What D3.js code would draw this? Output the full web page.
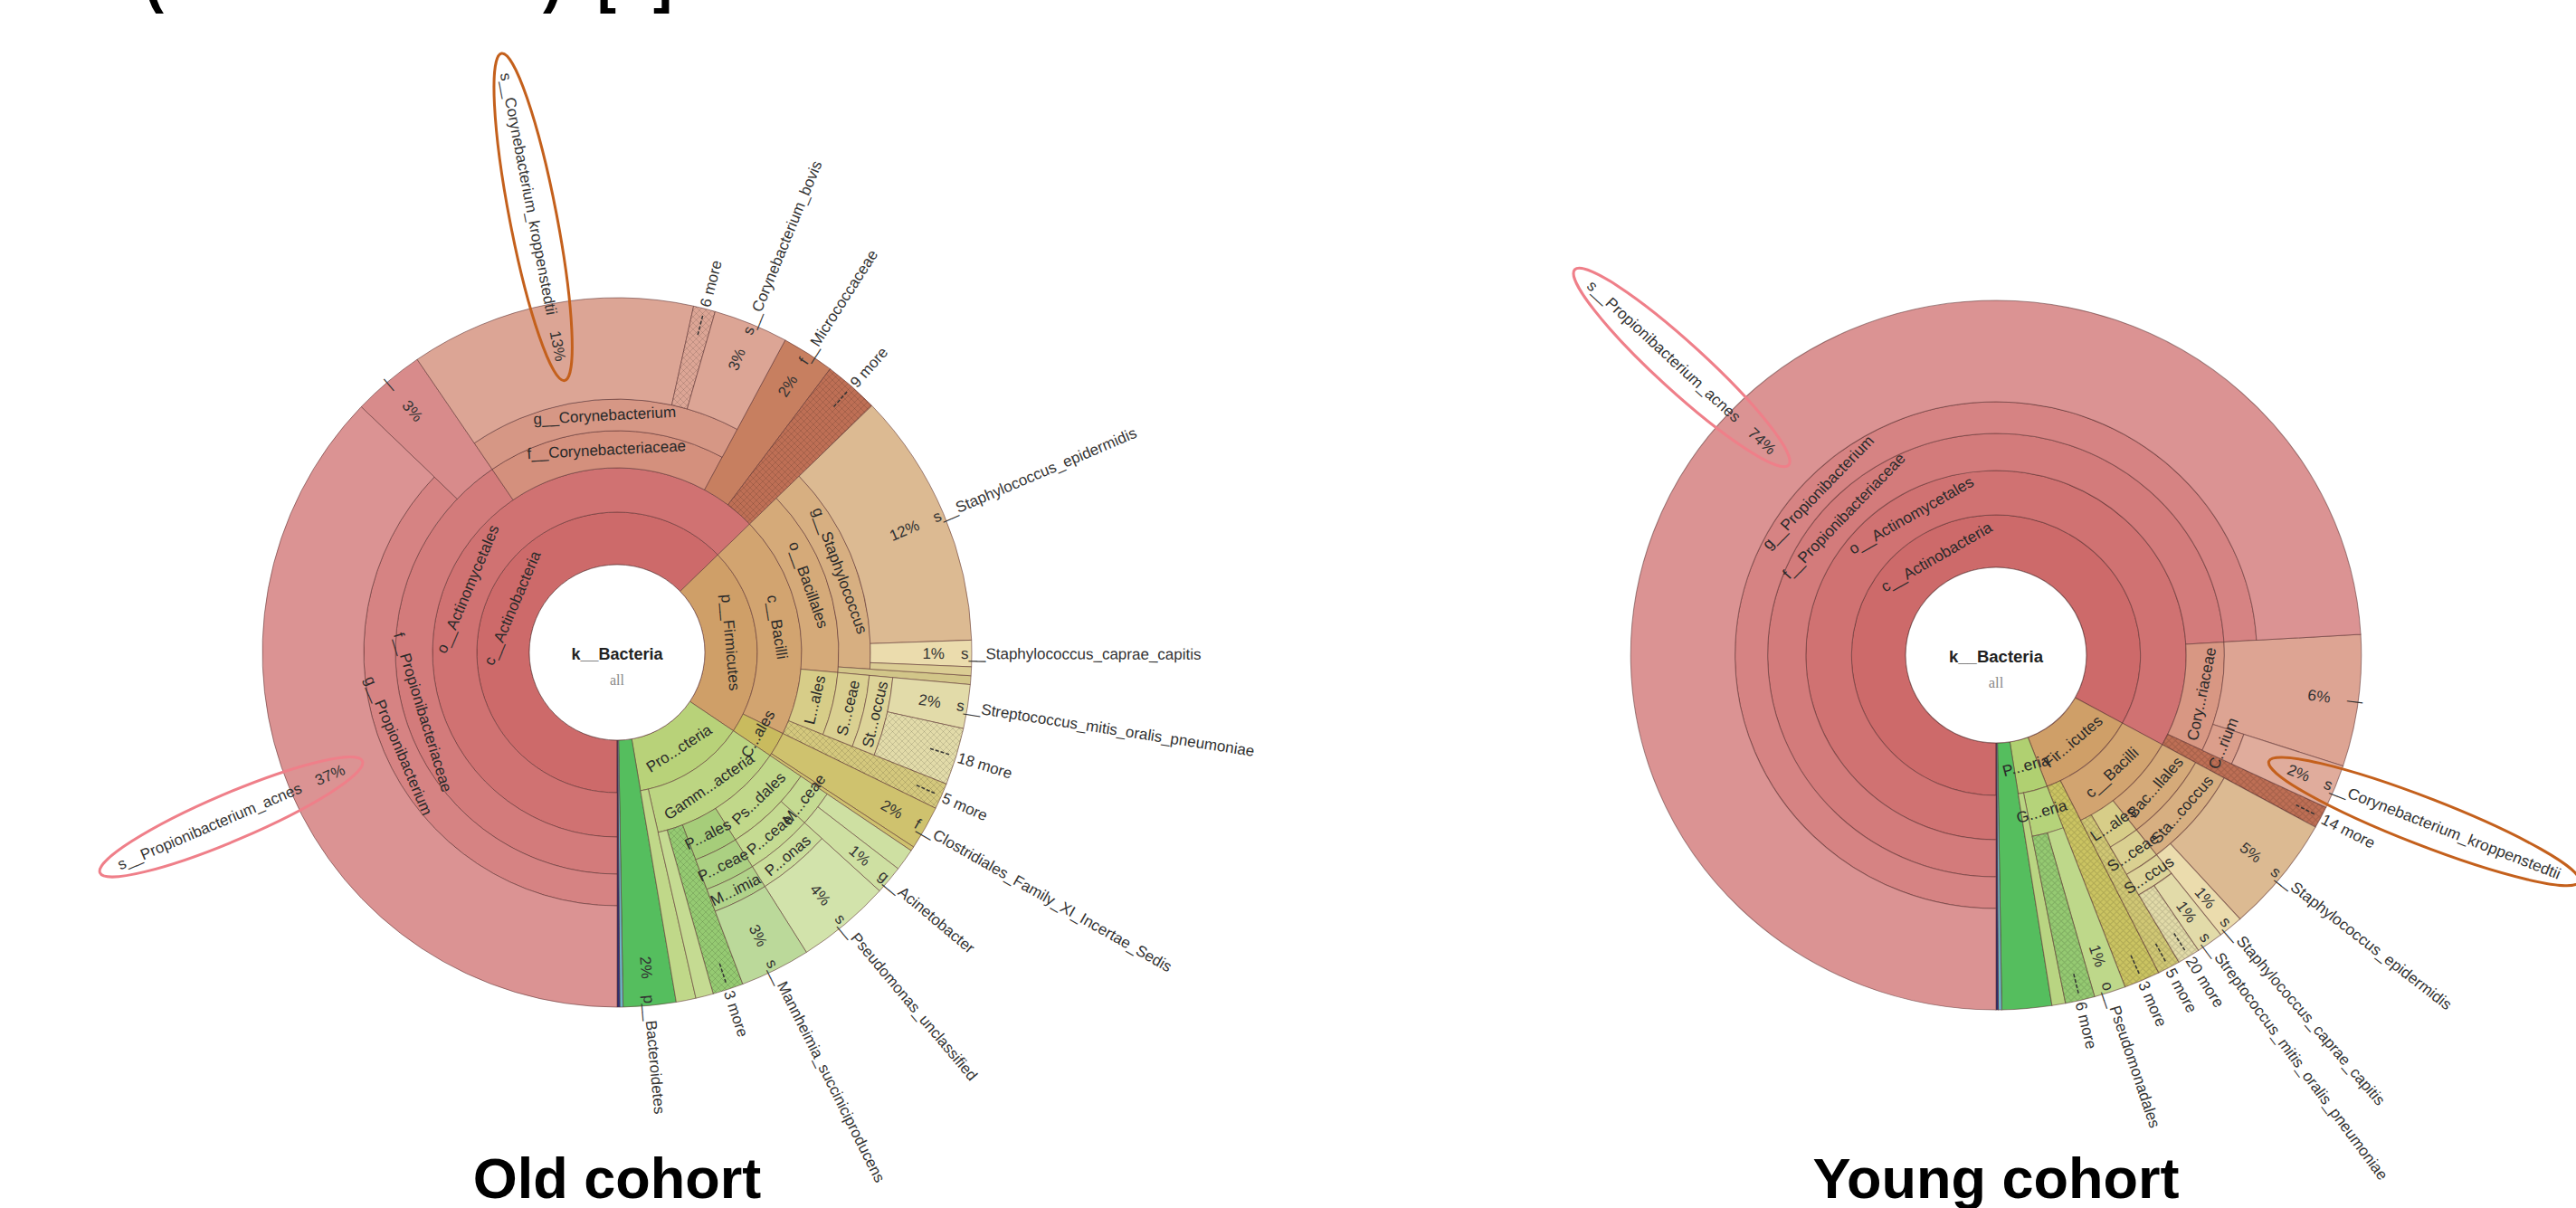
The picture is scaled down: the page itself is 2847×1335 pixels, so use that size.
<!DOCTYPE html>
<html>
<head>
<meta charset="utf-8">
<script src="https://cdn.jsdelivr.net/npm/d3@7"></script>
<style>
  body { margin: 0; background: #fff; }
  svg { display: block; font-family: "Liberation Sans", Arial, sans-serif; }
</style>
</head>
<body>
<svg id="chart" width="2847" height="1335"></svg>
<script>
// Krona wedges, paths already collapsed the way Krona shows them.
// values are % of reads. names starting with "_" are wedges with no label.
const oldPaths = [
  "c__Actinobacteria/o__Actinomycetales/f__Propionibacteriaceae/g__Propionibacterium/s__Propionibacterium_acnes",
  "c__Actinobacteria/o__Actinomycetales/f__Propionibacteriaceae/—",
  "c__Actinobacteria/o__Actinomycetales/f__Corynebacteriaceae/g__Corynebacterium/s__Corynebacterium_kroppenstedtii",
  "c__Actinobacteria/o__Actinomycetales/f__Corynebacteriaceae/g__Corynebacterium/6 more",
  "c__Actinobacteria/o__Actinomycetales/f__Corynebacteriaceae/g__Corynebacterium/s__Corynebacterium_bovis",
  "c__Actinobacteria/o__Actinomycetales/f__Micrococcaceae",
  "c__Actinobacteria/o__Actinomycetales/9 more",
  "p__Firmicutes/c__Bacilli/o__Bacillales/g__Staphylococcus/s__Staphylococcus_epidermidis",
  "p__Firmicutes/c__Bacilli/o__Bacillales/g__Staphylococcus/s__Staphylococcus_caprae_capitis",
  "p__Firmicutes/c__Bacilli/o__Bacillales/g__Staphylococcus/_s1",
  "p__Firmicutes/c__Bacilli/o__Bacillales/_g1",
  "p__Firmicutes/c__Bacilli/o__Lactobacillales/f__Streptococcaceae/g__Streptococcus/s__Streptococcus_mitis_oralis_pneumoniae",
  "p__Firmicutes/c__Bacilli/o__Lactobacillales/f__Streptococcaceae/g__Streptococcus/18 more",
  "p__Firmicutes/c__Bacilli/5 more",
  "p__Firmicutes/o__Clostridiales/f__Clostridiales_Family_XI_Incertae_Sedis",
  "p__Firmicutes/o__Clostridiales/_f1",
  "p__Proteobacteria/c__Gammaproteobacteria/o__Pseudomonadales/f__Moraxellaceae/_g2",
  "p__Proteobacteria/c__Gammaproteobacteria/o__Pseudomonadales/f__Moraxellaceae/g__Acinetobacter",
  "p__Proteobacteria/c__Gammaproteobacteria/o__Pseudomonadales/f__Pseudomonadaceae/g__Pseudomonas/s__Pseudomonas_unclassified",
  "p__Proteobacteria/c__Gammaproteobacteria/o__Pasteurellales/f__Pasteurellaceae/g__Mannheimia/s__Mannheimia_succiniciproducens",
  "p__Proteobacteria/c__Gammaproteobacteria/3 more",
  "p__Proteobacteria/c__Gammaproteobacteria/_o1",
  "p__Proteobacteria/_c1",
  "p__Bacteroidetes",
  "_p1",
  "_p2"
];
const oldValues = [37.2, 3.3, 13.0, 1.0, 3.4, 2.4, 2.5, 11.7, 1.2, 0.4, 0.4, 2.0, 2.6, 1.2, 2.0, 0.2,
  1.0, 1.3, 4.3, 3.2, 1.4, 0.8, 0.9, 2.4, 0.15, 0.12];

const youngPaths = [
  "c__Actinobacteria/o__Actinomycetales/f__Propionibacteriaceae/g__Propionibacterium/s__Propionibacterium_acnes",
  "c__Actinobacteria/o__Actinomycetales/f__Corynebacteriaceae/—",
  "c__Actinobacteria/o__Actinomycetales/f__Corynebacteriaceae/g__Corynebacterium/s__Corynebacterium_kroppenstedtii",
  "c__Actinobacteria/o__Actinomycetales/14 more",
  "p__Firmicutes/c__Bacilli/o__Bacillales/g__Staphylococcus/s__Staphylococcus_epidermidis",
  "p__Firmicutes/c__Bacilli/o__Bacillales/g__Staphylococcus/s__Staphylococcus_caprae_capitis",
  "p__Firmicutes/c__Bacilli/o__Lactobacillales/f__Streptococcaceae/g__Streptococcus/s__Streptococcus_mitis_oralis_pneumoniae",
  "p__Firmicutes/c__Bacilli/o__Lactobacillales/f__Streptococcaceae/g__Streptococcus/20 more",
  "p__Firmicutes/c__Bacilli/5 more",
  "p__Firmicutes/3 more",
  "p__Proteobacteria/c__Gammaproteobacteria/o__Pseudomonadales",
  "p__Proteobacteria/c__Gammaproteobacteria/6 more",
  "p__Proteobacteria/_c1",
  "_p__Bacteroidetes",
  "_p1",
  "_p2"
];
const youngValues = [74.1, 6.0, 2.0, 1.0, 5.3, 1.1, 1.2, 1.0, 1.0, 1.6, 1.4, 1.3, 0.6, 2.2, 0.15, 0.1];

// labels circled by hand in the figure
const oldCircled = ["s__Propionibacterium_acnes", "s__Corynebacterium_kroppenstedtii"];
const youngCircled = ["s__Propionibacterium_acnes", "s__Corynebacterium_kroppenstedtii"];

// colours: [hue, sat, lightness] for a wedge and everything under it
const oldHues = {
  "c__Actinobacteria": [0, 0.5, 0.61],
  "f__Corynebacteriaceae": [13, 0.5, 0.66],
  "f__Micrococcaceae": [18, 0.48, 0.56],
  "9 more": [15, 0.45, 0.52],
  "p__Firmicutes": [32, 0.52, 0.61],
  "s__Staphylococcus_caprae_capitis": [46, 0.6, 0.78],
  "_s1": [48, 0.5, 0.7],
  "_g1": [50, 0.45, 0.66],
  "o__Lactobacillales": [52, 0.5, 0.69],
  "5 more": [52, 0.5, 0.64],
  "o__Clostridiales": [52, 0.5, 0.58],
  "p__Proteobacteria": [78, 0.5, 0.65],
  "o__Pasteurellales": [88, 0.45, 0.64],
  "3 more": [96, 0.45, 0.6],
  "p__Bacteroidetes": [125, 0.45, 0.52],
  "_p1": [192, 0.45, 0.58],
  "_p2": [238, 0.45, 0.3]
};
const youngHues = {
  "c__Actinobacteria": [0, 0.5, 0.61],
  "f__Corynebacteriaceae": [14, 0.52, 0.68],
  "14 more": [15, 0.45, 0.52],
  "p__Firmicutes": [32, 0.52, 0.61],
  "s__Staphylococcus_caprae_capitis": [46, 0.6, 0.78],
  "o__Lactobacillales": [52, 0.5, 0.69],
  "5 more": [54, 0.5, 0.62],
  "3 more": [56, 0.5, 0.57],
  "p__Proteobacteria": [80, 0.5, 0.63],
  "6 more": [96, 0.45, 0.6],
  "_p__Bacteroidetes": [125, 0.45, 0.52],
  "_p1": [192, 0.45, 0.58],
  "_p2": [238, 0.45, 0.3]
};
const circleColor = {
  "s__Propionibacterium_acnes": "#ef7f89",
  "s__Corynebacterium_kroppenstedtii": "#c4601c"
};

const rings = [97, 155, 204, 245, 280, 306, 330];
const outerR = 392;

let svg = d3.select("#chart");
let defs = svg.append("defs");
defs.append("pattern")
  .attr("id", "hatch")
  .attr("patternUnits", "userSpaceOnUse")
  .attr("width", 7).attr("height", 7)
  .append("path")
  .attr("d", "M0,7L7,0M0,0L7,7")
  .attr("stroke", "rgba(0,0,0,0.13)")
  .attr("stroke-width", 1);

function buildTree(paths, values) {
  let root = { name: "k__Bacteria", children: [] };
  paths.forEach(function (p, i) {
    let node = root;
    let parts = p.split("/");
    parts.forEach(function (part, j) {
      let child = node.children.find(c => c.name === part);
      if (!child) {
        child = { name: part };
        if (j < parts.length - 1) child.children = [];
        node.children.push(child);
      }
      if (j === parts.length - 1) child.value = values[i];
      node = child;
    });
  });
  return d3.hierarchy(root).sum(d => d.value || 0);
}

function colorOf(d, hues) {
  let key = d.ancestors().find(a => hues[a.data.name]);
  let [h, s, l] = hues[key.data.name];
  let light = l + 0.022 * (d.depth - key.depth) + (d.children ? 0 : 0.02);
  return d3.hsl(h, s, Math.min(0.82, light)).toString();
}

// shortened names the way krona does it: head...tail
function candidates(name) {
  let out = [name];
  let m = name.match(/^([a-z]__)(.*)$/);
  let pre = m ? m[1] : "", body = m ? m[2] : name;
  for (let n = body.length - 4; n >= 1; n--) {
    let t = n + 3;
    if (n + t >= body.length) continue;
    let cut = body.slice(0, n) + "..." + body.slice(body.length - t);
    if (pre) out.push(pre + cut);
    out.push(cut);
  }
  return out;
}

function drawChart(cx, cy, sx, paths, values, hues, circled, title) {
  let root = buildTree(paths, values);
  d3.partition().size([2 * Math.PI, 1])(root);
  let total = root.value;

  let g = svg.append("g").attr("transform", `translate(${cx},${cy}) scale(${sx},1)`);

  let arc = d3.arc()
    .startAngle(d => Math.PI + d.x0)
    .endAngle(d => Math.PI + d.x1)
    .innerRadius(d => rings[d.depth - 1])
    .outerRadius(d => (d.children ? rings[d.depth] : outerR));

  let nodes = root.descendants().filter(d => d.depth > 0);

  g.selectAll(".wedge")
    .data(nodes)
    .enter()
    .append("path")
    .attr("class", "wedge")
    .attr("d", arc)
    .attr("fill", d => colorOf(d, hues))
    .attr("stroke", "rgba(90,45,45,0.55)")
    .attr("stroke-width", 1);

  // collapsed groups are hatched
  g.selectAll(".hatch")
    .data(nodes.filter(d => / more$/.test(d.data.name)))
    .enter()
    .append("path")
    .attr("class", "hatch")
    .attr("d", arc)
    .attr("fill", "url(#hatch)");

  // centre
  g.append("circle").attr("r", rings[0]).attr("fill", "#fff")
    .attr("stroke", "rgba(90,45,45,0.6)");
  g.append("text").attr("y", 8).attr("text-anchor", "middle")
    .attr("font-size", 18).attr("font-weight", "bold").attr("fill", "#222")
    .text(root.data.name);
  g.append("text").attr("y", 36).attr("text-anchor", "middle")
    .attr("font-size", 16).attr("font-family", "Liberation Serif, serif").attr("fill", "#888")
    .text("all");

  // inner labels: straight, tangent to the ring
  nodes.filter(d => d.children && !d.data.name.startsWith("_")).forEach(function (d) {
    let a = Math.PI + (d.x0 + d.x1) / 2;
    let deg = (a * 180 / Math.PI) % 360;
    let rot = deg > 90 && deg < 270 ? deg - 180 : deg;
    let r = (rings[d.depth - 1] + rings[d.depth]) / 2;
    let avail = (d.x1 - d.x0) * r - 6;
    let t = g.append("text")
      .attr("transform", `translate(${r * Math.sin(a)},${-r * Math.cos(a)}) rotate(${rot})`)
      .attr("text-anchor", "middle")
      .attr("dy", "0.35em")
      .attr("font-size", 17)
      .attr("fill", "#2a2a2a");
    let list = candidates(d.data.name);
    let ok = false;
    for (let c of list) {
      t.text(c);
      if (t.node().getComputedTextLength() <= avail) { ok = true; break; }
    }
    if (!ok) {
      if (avail > 14) t.text(list[list.length - 1]);
      else t.remove();
    }
  });

  // leaf labels: radial, percent inside the rim, name outside
  nodes.filter(d => !d.children && !d.data.name.startsWith("_")).forEach(function (d) {
    let a = Math.PI + (d.x0 + d.x1) / 2;
    let deg = (a * 180 / Math.PI) % 360;
    let right = deg < 180;
    let sgn = right ? 1 : -1;
    let lab = g.append("g").attr("transform", `rotate(${right ? deg - 90 : deg + 90})`);
    let name = d.data.name;
    if (/ more$/.test(name)) {
      lab.append("line")
        .attr("x1", sgn * (outerR - 30)).attr("x2", sgn * (outerR - 6))
        .attr("stroke", "#333").attr("stroke-width", 1.5)
        .attr("stroke-dasharray", "4,2");
      lab.append("text")
        .attr("x", sgn * (outerR + 2)).attr("dy", "0.35em")
        .attr("text-anchor", right ? "start" : "end")
        .attr("font-size", 17).attr("fill", "#333")
        .text(name);
      return;
    }
    let pct = lab.append("text")
      .attr("x", sgn * (outerR - 30)).attr("dy", "0.35em")
      .attr("text-anchor", right ? "end" : "start")
      .attr("font-size", 17).attr("fill", "#333")
      .text(Math.round(d.value / total * 100) + "%");
    let nm = lab.append("text")
      .attr("x", sgn * (outerR - 12)).attr("dy", "0.35em")
      .attr("text-anchor", right ? "start" : "end")
      .attr("font-size", 17).attr("fill", "#333")
      .text(name);
    if (circled.includes(name)) {
      let r1 = outerR - 30 - pct.node().getComputedTextLength() - 22;
      let r2 = outerR - 12 + nm.node().getComputedTextLength() + 22;
      lab.append("ellipse")
        .attr("cx", sgn * (r1 + r2) / 2)
        .attr("rx", (r2 - r1) / 2)
        .attr("ry", 26)
        .attr("fill", "none")
        .attr("stroke", circleColor[name])
        .attr("stroke-width", 3);
    }
  });

  svg.append("text")
    .attr("x", cx).attr("y", 1324)
    .attr("text-anchor", "middle")
    .attr("font-size", 63).attr("font-weight", "bold").attr("fill", "#000")
    .text(title);
}

drawChart(682, 721, 1, oldPaths, oldValues, oldHues, oldCircled, "Old cohort");
drawChart(2206, 724, 1.03, youngPaths, youngValues, youngHues, youngCircled, "Young cohort");

// heading of the slide, cut off by the top edge
let head = svg.append("text").attr("y", 2)
  .attr("font-size", 63).attr("font-weight", "bold").attr("fill", "#000");
head.append("tspan").attr("x", 160).text("(");
head.append("tspan").attr("x", 600).text(")");
head.append("tspan").attr("x", 660).text("[");
head.append("tspan").attr("x", 722).text("]");
</script>
</body>
</html>
